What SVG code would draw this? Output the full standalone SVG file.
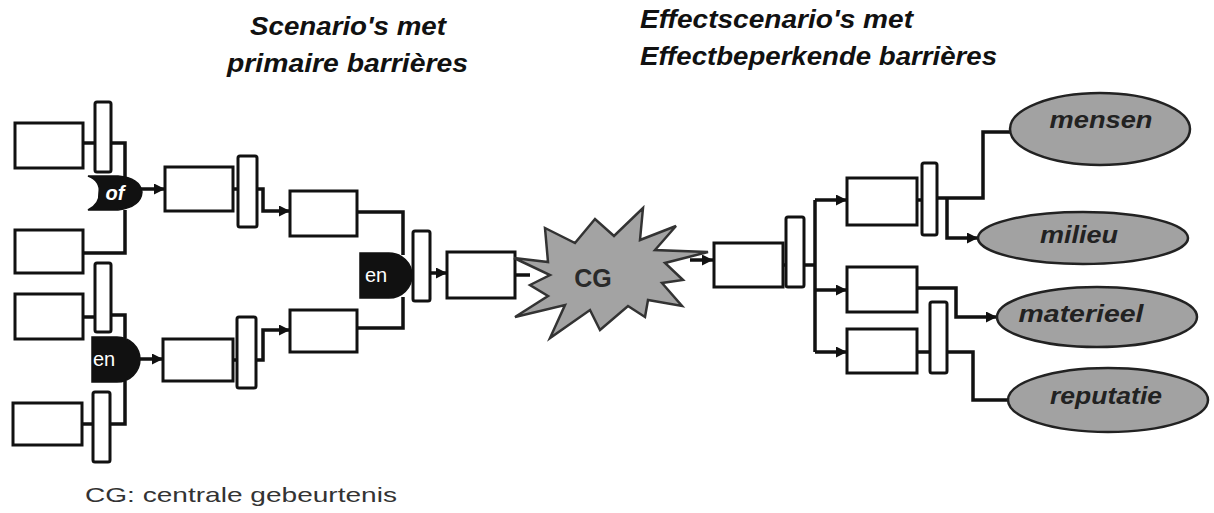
<svg xmlns="http://www.w3.org/2000/svg" width="1214" height="513" viewBox="0 0 1214 513">
  <style>
    .box { fill: #fff; stroke: #111; stroke-width: 3; }
    .bar { fill: #fff; stroke: #111; stroke-width: 3; }
    .gate { fill: #111; stroke: #111; stroke-width: 1.5; }
    .gtxt { font-family: "Liberation Sans", Arial, sans-serif; font-size: 20px; fill: #fff; }
    .wire { fill: none; stroke: #111; stroke-width: 3.5; stroke-linejoin: miter; }
    .title { font-family: "Liberation Sans", Arial, sans-serif; font-weight: bold; font-style: italic; font-size: 25px; fill: #111; }
    .eff { fill: #a2a2a2; stroke: #222; stroke-width: 2.5; }
    .etxt { font-family: "Liberation Sans", Arial, sans-serif; font-weight: bold; font-style: italic; font-size: 24px; fill: #222; text-anchor: middle; }
    .note { font-family: "Liberation Sans", Arial, sans-serif; font-size: 21px; fill: #333; }
  </style>
  <defs>
    <marker id="arr" viewBox="0 0 10 10" refX="10" refY="5" markerWidth="11" markerHeight="11" markerUnits="userSpaceOnUse" orient="auto">
      <path d="M0,0 L10,5 L0,10 z" fill="#111"/>
    </marker>
  </defs>

  <rect width="1214" height="513" fill="#fff"/>

  <!-- headings -->
  <g id="heading-left">
    <text class="title" x="250" y="35" textLength="196" lengthAdjust="spacingAndGlyphs">Scenario's met</text>
    <text class="title" x="227" y="72" textLength="241" lengthAdjust="spacingAndGlyphs">primaire barrières</text>
  </g>
  <g id="heading-right">
    <text class="title" x="640" y="28" textLength="273" lengthAdjust="spacingAndGlyphs">Effectscenario's met</text>
    <text class="title" x="640" y="65" textLength="357" lengthAdjust="spacingAndGlyphs">Effectbeperkende barrières</text>
  </g>

  <!-- connectors -->
  <g id="connectors">
    <!-- left top group -->
    <path class="wire" d="M83,143 H95"/>
    <path class="wire" d="M111,143 H125 V178"/>
    <path class="wire" d="M83,253 H125 V210"/>
    <path class="wire" d="M140,189 H165" marker-end="url(#arr)"/>
    <!-- left bottom group -->
    <path class="wire" d="M83,317 H95"/>
    <path class="wire" d="M111,315 H125 V338"/>
    <path class="wire" d="M82,424 H93"/>
    <path class="wire" d="M110,424 H125 V381"/>
    <path class="wire" d="M140,359 H163" marker-end="url(#arr)"/>
    <!-- middle column -->
    <path class="wire" d="M233,189 H238"/>
    <path class="wire" d="M257,189 H263 V211 H290" marker-end="url(#arr)"/>
    <path class="wire" d="M233,360 H237"/>
    <path class="wire" d="M256,360 H263 V330 H290" marker-end="url(#arr)"/>
    <path class="wire" d="M357,212 H403 V255"/>
    <path class="wire" d="M357,328 H403 V297"/>
    <path class="wire" d="M411,275 H413"/>
    <path class="wire" d="M430,273 H447" marker-end="url(#arr)"/>
    <path class="wire" d="M515,275 H530"/>
    <!-- right side -->
    <path class="wire" d="M690,260 H713" marker-end="url(#arr)"/>
    <path class="wire" d="M783,265 H786"/>
    <path class="wire" d="M804,265 H815"/>
    <path class="wire" d="M815,200 V352"/>
    <path class="wire" d="M815,200 H847" marker-end="url(#arr)"/>
    <path class="wire" d="M815,290 H847" marker-end="url(#arr)"/>
    <path class="wire" d="M815,352 H847" marker-end="url(#arr)"/>
    <path class="wire" d="M917,200 H922"/>
    <path class="wire" d="M937,198 H983 V132 H1010"/>
    <path class="wire" d="M947,198 V238 H978" marker-end="url(#arr)"/>
    <path class="wire" d="M917,288 H956 V317 H997" stroke-width="4.5" marker-end="url(#arr)"/>
    <path class="wire" d="M917,352 H930"/>
    <path class="wire" d="M947,352 H973 V400 H1008"/>
  </g>

  <!-- left: initiating causes -->
  <g id="cause-1"><rect class="box" x="15" y="123" width="68" height="45"/></g>
  <g id="barrier-1"><rect class="bar" x="95" y="102" width="16" height="70" rx="2"/></g>
  <g id="cause-2"><rect class="box" x="15" y="230" width="68" height="43"/></g>
  <g id="cause-3"><rect class="box" x="15" y="294" width="68" height="45"/></g>
  <g id="barrier-2"><rect class="bar" x="95" y="263" width="16" height="69" rx="2"/></g>
  <g id="cause-4"><rect class="box" x="13" y="403" width="69" height="42"/></g>
  <g id="barrier-3"><rect class="bar" x="93" y="392" width="17" height="70" rx="2"/></g>

  <!-- gates -->
  <g id="gate-of">
    <path class="gate" d="M88,176 Q101,181 99,193 Q100,204 88,210 L118,210 Q141,207 142,192 Q140,178 118,176 Z"/>
    <text class="gtxt" x="115" y="200" text-anchor="middle" font-style="italic" font-weight="bold">of</text>
  </g>
  <g id="gate-en-1">
    <path class="gate" d="M92,337 L117,337 A23,22.5 0 0 1 117,382 L92,382 Z"/>
    <text class="gtxt" x="104" y="366" text-anchor="middle">en</text>
  </g>
  <g id="gate-en-2">
    <path class="gate" d="M360,253 L389,253 A23,22.5 0 0 1 389,298 L360,298 Z"/>
    <text class="gtxt" x="376" y="282" text-anchor="middle">en</text>
  </g>

  <!-- scenarios with primary barriers -->
  <g id="event-1"><rect class="box" x="165" y="167" width="68" height="44"/></g>
  <g id="barrier-4"><rect class="bar" x="238" y="156" width="19" height="71" rx="2"/></g>
  <g id="event-2"><rect class="box" x="163" y="339" width="70" height="42"/></g>
  <g id="barrier-5"><rect class="bar" x="237" y="317" width="19" height="71" rx="2"/></g>
  <g id="event-3"><rect class="box" x="290" y="191" width="67" height="45"/></g>
  <g id="event-4"><rect class="box" x="290" y="310" width="67" height="42"/></g>
  <g id="barrier-6"><rect class="bar" x="413" y="231" width="17" height="70" rx="2"/></g>
  <g id="event-5"><rect class="box" x="447" y="252" width="68" height="46"/></g>

  <!-- central event -->
  <g id="central-event">
    <polygon points="514,258 548,262 545,228 575,243 595,219 614,236 643,208 640,240 676,226 655,250 708,252 665,263 683,280 662,283 682,306 648,300 645,317 628,306 600,330 590,310 550,338 565,305 515,317 548,296 530,285 550,275" fill="#a3a3a3" stroke="#333" stroke-width="2.5" stroke-linejoin="miter"/>
    <text x="593" y="287" text-anchor="middle" font-family="Liberation Sans, Arial, sans-serif" font-weight="bold" font-size="25" fill="#2a2a2a">CG</text>
  </g>

  <!-- effect scenarios with mitigating barriers -->
  <g id="effect-1"><rect class="box" x="714" y="243" width="69" height="44"/></g>
  <g id="barrier-7"><rect class="bar" x="786" y="217" width="18" height="70" rx="2"/></g>
  <g id="effect-2"><rect class="box" x="847" y="178" width="70" height="47"/></g>
  <g id="barrier-8"><rect class="bar" x="922" y="163" width="15" height="72" rx="2"/></g>
  <g id="effect-3"><rect class="box" x="847" y="267" width="70" height="45"/></g>
  <g id="effect-4"><rect class="box" x="847" y="329" width="70" height="44"/></g>
  <g id="barrier-9"><rect class="bar" x="930" y="302" width="17" height="71" rx="2"/></g>

  <!-- consequences -->
  <g id="mensen">
    <ellipse class="eff" cx="1100" cy="129" rx="90" ry="36"/>
    <text class="etxt" x="1101" y="128" textLength="103" lengthAdjust="spacingAndGlyphs">mensen</text>
  </g>
  <g id="milieu">
    <ellipse class="eff" cx="1083" cy="238" rx="105" ry="26"/>
    <text class="etxt" x="1079" y="243" textLength="78" lengthAdjust="spacingAndGlyphs">milieu</text>
  </g>
  <g id="materieel">
    <ellipse class="eff" cx="1097" cy="317" rx="100" ry="30"/>
    <text class="etxt" x="1081" y="322" textLength="125" lengthAdjust="spacingAndGlyphs">materieel</text>
  </g>
  <g id="reputatie">
    <ellipse class="eff" cx="1108" cy="400" rx="100" ry="32"/>
    <text class="etxt" x="1106" y="404" textLength="112" lengthAdjust="spacingAndGlyphs">reputatie</text>
  </g>

  <!-- legend -->
  <g id="legend">
    <text class="note" x="85" y="502" textLength="312" lengthAdjust="spacingAndGlyphs">CG: centrale gebeurtenis</text>
  </g>
</svg>
